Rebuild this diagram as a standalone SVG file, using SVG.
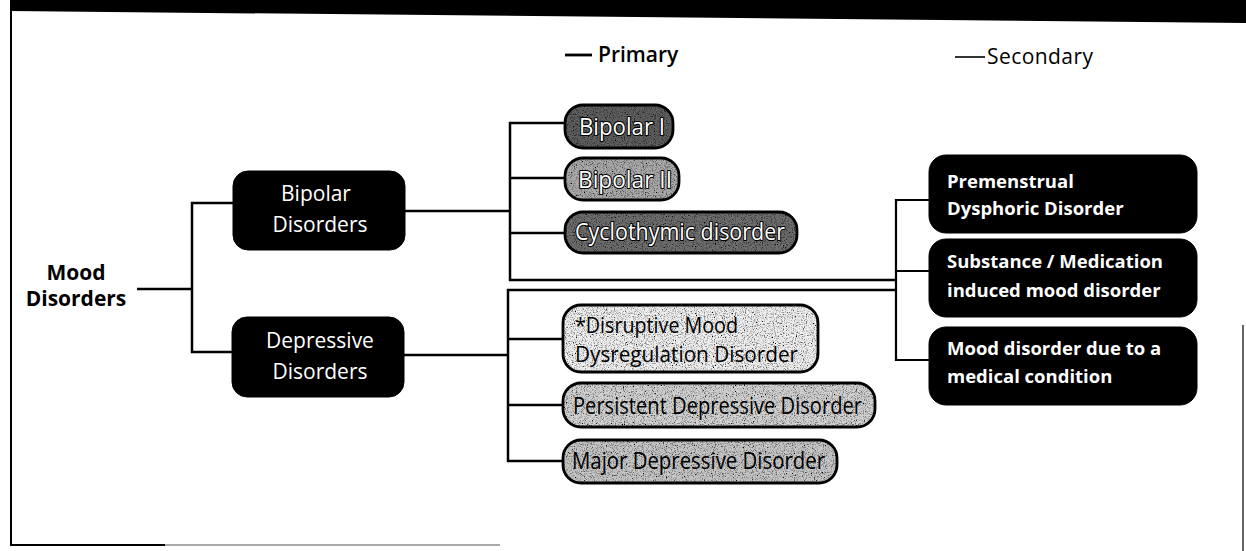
<svg xmlns="http://www.w3.org/2000/svg" width="1246" height="551" viewBox="0 0 1246 551">
<defs>
<style>
.frame{fill:none;stroke:#000;stroke-width:2}
.conn{fill:none;stroke:#000;stroke-width:2.5}
.conn2{fill:none;stroke:#000;stroke-width:2.2}
.dark{fill:#000;stroke:#000}
.pill{stroke:#000;stroke-width:2.8}
.wt{font-family:"Open Sans","Noto Sans",sans-serif;font-size:21px;fill:#fff;text-anchor:middle}
.wb{font-family:"Open Sans","Noto Sans",sans-serif;font-size:18.5px;font-weight:700;fill:#fff}
.mt{font-family:"Open Sans","Noto Sans",sans-serif;font-size:24px}
.mt2{font-family:"Open Sans","Noto Sans",sans-serif;font-size:21px}
.ot{fill:#fff;stroke:#000;stroke-width:2.2;paint-order:stroke;stroke-linejoin:round}
.bt{fill:#000}
.leg{font-family:"Open Sans","Noto Sans",sans-serif;font-size:21px;fill:#000}
.md{font-family:"Open Sans","Noto Sans",sans-serif;font-size:21px;font-weight:700;text-anchor:middle}
</style>
<filter id="grain" x="0" y="0" width="100%" height="100%">
<feTurbulence type="fractalNoise" baseFrequency="0.9" numOctaves="2" seed="4" result="n"/>
<feColorMatrix in="n" type="matrix" values="0 0 0 0 0  0 0 0 0 0  0 0 0 0 0  0 0 0 -3 1.6" result="dots"/>
<feComposite in="dots" in2="SourceGraphic" operator="in" result="d2"/>
<feMerge><feMergeNode in="SourceGraphic"/><feMergeNode in="d2"/></feMerge>
</filter>
</defs>
<rect width="1246" height="551" fill="#fff"/>
<g id="frame">
<polygon points="10,0 1246,0 1246,23 10,11" fill="#000"/>
<line class="frame" x1="11" y1="11" x2="11" y2="546"/>
<line class="frame" x1="11" y1="545" x2="165" y2="545"/>
<line x1="165" y1="545" x2="500" y2="545" stroke="#555" stroke-width="1.2"/>
<line x1="1243" y1="325" x2="1243" y2="551" stroke="#000" stroke-width="1.2"/>
</g>
<g id="legend">
<line x1="565" y1="55" x2="592" y2="55" stroke="#000" stroke-width="2.8"/>
<text class="leg" x="598" y="62" font-weight="600">Primary</text>
<line x1="955" y1="57" x2="985" y2="57" stroke="#000" stroke-width="1.6"/>
<text class="leg" x="987" y="64" textLength="106">Secondary</text>
</g>
<g id="connectors">
<path class="conn" d="M137,289 H192"/>
<path class="conn" d="M233,203 H192 V352 H233"/>
<path class="conn" d="M405,211 H510"/>
<path class="conn" d="M565,123 H510 V280 H896"/>
<path class="conn" d="M510,178 H565 M510,233 H565"/>
<path class="conn" d="M404,355 H508"/>
<path class="conn" d="M896,290 H508 V461 H563"/>
<path class="conn" d="M508,339 H563 M508,405 H563"/>
<path class="conn2" d="M929,200 H896 V360 H929 M896,271 H929"/>
</g>
<g id="mood-disorders">
<text class="md" x="76" y="280">Mood</text>
<text class="md" x="76" y="306">Disorders</text>
</g>
<g id="bipolar-disorders">
<rect class="dark" x="233" y="171" width="172" height="79" rx="15"/>
<text class="wt" x="316" y="201">Bipolar</text>
<text class="wt" x="320" y="232">Disorders</text>
</g>
<g id="depressive-disorders">
<rect class="dark" x="232" y="317" width="172" height="80" rx="15"/>
<text class="wt" x="320" y="348">Depressive</text>
<text class="wt" x="320" y="379">Disorders</text>
</g>
<g id="bipolar-1">
<rect x="565" y="105" width="108" height="43" rx="18" fill="#5e5e5e" filter="url(#grain)"/>
<rect class="pill" x="565" y="105" width="108" height="43" rx="18" fill="none"/>
<text class="mt ot" x="579" y="135" textLength="86" lengthAdjust="spacingAndGlyphs">Bipolar I</text>
</g>
<g id="bipolar-2">
<rect x="565" y="158" width="114" height="42" rx="18" fill="#aaaaaa" filter="url(#grain)"/>
<rect class="pill" x="565" y="158" width="114" height="42" rx="18" fill="none"/>
<text class="mt ot" x="578" y="188" textLength="94" lengthAdjust="spacingAndGlyphs">Bipolar II</text>
</g>
<g id="cyclothymic">
<rect x="565" y="212" width="232" height="41" rx="18" fill="#6e6e6e" filter="url(#grain)"/>
<rect class="pill" x="565" y="212" width="232" height="41" rx="18" fill="none"/>
<text class="mt ot" x="575" y="240" textLength="210" lengthAdjust="spacingAndGlyphs">Cyclothymic disorder</text>
</g>
<g id="dmdd">
<rect x="563" y="305" width="255" height="67" rx="18" fill="#f0f0f0" filter="url(#grain)"/>
<rect class="pill" x="563" y="305" width="255" height="67" rx="18" fill="none"/>
<text class="mt2 bt" x="575" y="333" textLength="163" lengthAdjust="spacingAndGlyphs">*Disruptive Mood</text>
<text class="mt2 bt" x="575" y="362" textLength="223" lengthAdjust="spacingAndGlyphs">Dysregulation Disorder</text>
</g>
<g id="persistent">
<rect x="563" y="383" width="312" height="44" rx="18" fill="#d2d2d2" filter="url(#grain)"/>
<rect class="pill" x="563" y="383" width="312" height="44" rx="18" fill="none"/>
<text class="mt bt" x="573" y="414" textLength="289" lengthAdjust="spacingAndGlyphs">Persistent Depressive Disorder</text>
</g>
<g id="major">
<rect x="563" y="440" width="274" height="43" rx="18" fill="#c6c6c6" filter="url(#grain)"/>
<rect class="pill" x="563" y="440" width="274" height="43" rx="18" fill="none"/>
<text class="mt bt" x="572" y="469" textLength="253" lengthAdjust="spacingAndGlyphs">Major Depressive Disorder</text>
</g>
<g id="premenstrual">
<rect class="dark" x="929" y="155" width="268" height="78" rx="17"/>
<text class="wb" x="947" y="188">Premenstrual</text>
<text class="wb" x="947" y="215">Dysphoric Disorder</text>
</g>
<g id="substance">
<rect class="dark" x="929" y="239" width="268" height="78" rx="17"/>
<text class="wb" x="947" y="268">Substance / Medication</text>
<text class="wb" x="947" y="297">induced mood disorder</text>
</g>
<g id="medical">
<rect class="dark" x="929" y="327" width="268" height="78" rx="17"/>
<text class="wb" x="947" y="355">Mood disorder due to a</text>
<text class="wb" x="947" y="383">medical condition</text>
</g>
</svg>
